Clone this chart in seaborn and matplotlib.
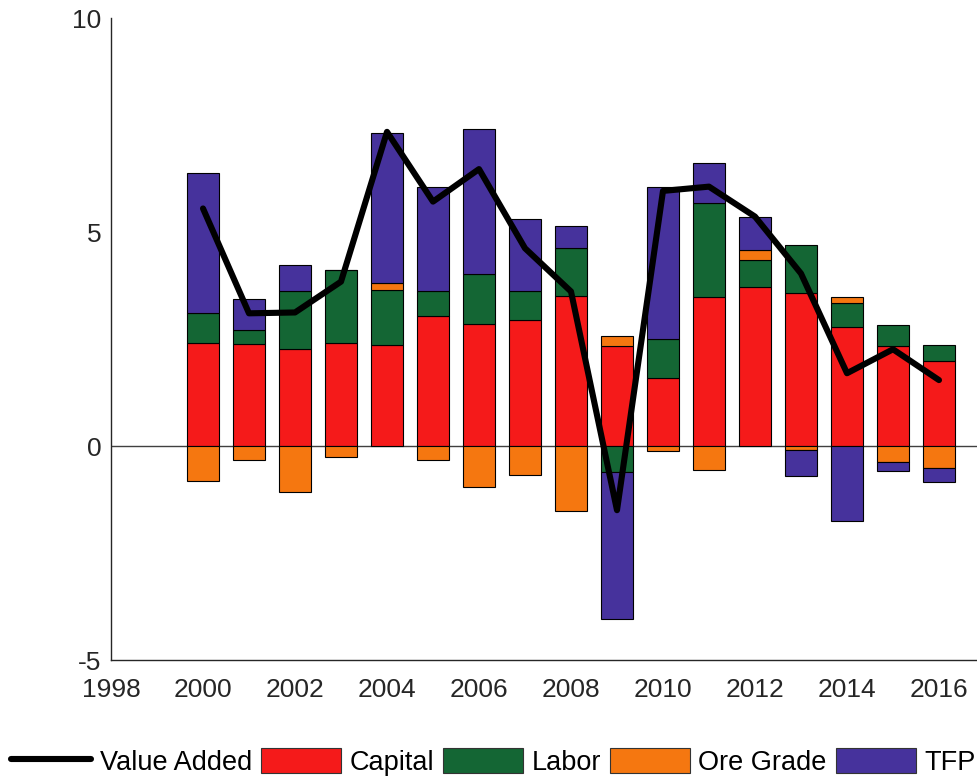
import numpy as np
import pandas as pd
import matplotlib
matplotlib.use("Agg")
import matplotlib.pyplot as plt
import seaborn as sns
from matplotlib.patches import Patch
from matplotlib.lines import Line2D

years = list(range(2000, 2017))
capital = [2.41, 2.38, 2.26, 2.41, 2.36, 3.04, 2.85, 2.94, 3.50, 2.34, 1.58, 3.49, 3.71, 3.58, 2.77, 2.34, 1.99]
labor = [0.69, 0.33, 1.37, 1.70, 1.28, 0.59, 1.18, 0.67, 1.12, -0.60, 0.91, 2.18, 0.64, 1.12, 0.58, 0.49, 0.37]
ore_grade = [-0.81, -0.33, -1.07, -0.25, 0.16, -0.33, -0.95, -0.68, -1.53, 0.24, -0.11, -0.56, 0.24, -0.09, 0.12, -0.37, -0.52]
tfp = [3.29, 0.72, 0.60, 0.0, 3.51, 2.41, 3.38, 1.69, 0.53, -3.44, 3.55, 0.95, 0.75, -0.61, -1.75, -0.21, -0.33]
value_added = [5.55, 3.10, 3.12, 3.84, 7.34, 5.71, 6.47, 4.62, 3.61, -1.50, 5.96, 6.06, 5.36, 4.03, 1.70, 2.26, 1.54]

series_names = ["Capital", "Labor", "Ore Grade", "TFP"]
series_vals = [capital, labor, ore_grade, tfp]
colors = ["#F51A1A", "#146634", "#F57710", "#46329C"]

sns.set_theme(style="white")
plt.rcParams["font.family"] = ["Liberation Sans", "DejaVu Sans"]

fig = plt.figure(figsize=(9.77, 7.81), dpi=100)
ax = fig.add_axes([111 / 977, 1 - 660 / 781, (977 - 111) / 977, (660 - 18) / 781])

axis_col = "#262626"
x = np.array(years, dtype=float)
pos_base = np.zeros(len(years))
neg_base = np.zeros(len(years))
for name, vals, col in zip(series_names, series_vals, colors):
    v = np.array(vals)
    bottoms = np.where(v >= 0, pos_base, neg_base)
    ax.bar(x, v, width=0.7, bottom=bottoms, color=col, edgecolor="black",
           linewidth=0.8, zorder=2)
    pos_base = pos_base + np.where(v >= 0, v, 0)
    neg_base = neg_base + np.where(v < 0, v, 0)

ax.axhline(0, color="#404040", lw=1.0, zorder=1.5)

df = pd.DataFrame({"year": years, "va": value_added})
sns.lineplot(data=df, x="year", y="va", ax=ax, color="black", lw=4.4, zorder=5,
             legend=False)

ax.set_xlim(1998, 1998 + 866 / 46)
ax.set_ylim(-5, 10)
ax.set_xticks(list(range(1998, 2017, 2)))
ax.set_yticks([-5, 0, 5, 10])
ax.set_yticklabels(["-5", "0", "5", "10"])
ax.set_xlabel("")
ax.set_ylabel("")
for s in ["top", "right"]:
    ax.spines[s].set_visible(False)
for s in ["left", "bottom"]:
    ax.spines[s].set_color(axis_col)
    ax.spines[s].set_linewidth(1.0)
ax.tick_params(axis="both", direction="in", length=6.5, width=1.0, color=axis_col,
               labelcolor=axis_col, labelsize=19)
ax.tick_params(axis="x", pad=13)
ax.tick_params(axis="y", pad=7)
ax.grid(False)

handles = [Line2D([0], [0], color="black", lw=4.4)] + [
    Patch(facecolor=c, edgecolor="#333333", linewidth=0.8) for c in colors]
labels = ["Value Added"] + series_names
fig.legend(handles, labels, loc="center", bbox_to_anchor=(0.5 + 5 / 977, 1 - 762 / 781),
           ncol=5, frameon=False, fontsize=19.5, handlelength=2.95, handleheight=1.05,
           handletextpad=0.3, columnspacing=0.35, labelcolor="black")

fig.savefig("out.png", dpi=100)
